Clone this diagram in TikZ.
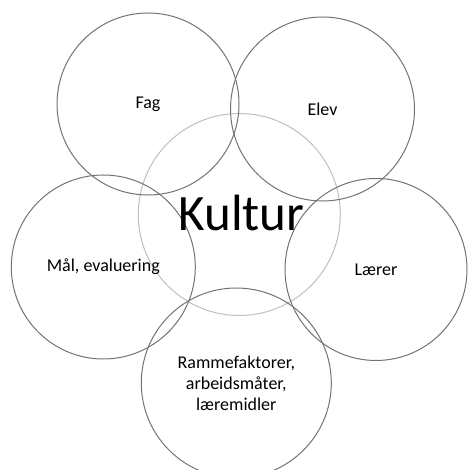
\documentclass[tikz,border=0pt]{standalone}
\usepackage{fontspec}
\setmainfont{Carlito}
\begin{document}
\begin{tikzpicture}[x=1pt,y=1pt,
  outer/.style={circle,draw=black!55,line width=1pt,minimum size=#1,inner sep=0pt,align=center,font=\fontsize{18}{21}\selectfont},
  inner/.style={circle,draw=black!25,line width=1pt,minimum size=#1,inner sep=0pt}]
\useasboundingbox (0,0) rectangle (467,470);
\node[inner=202pt] (kulturc) at (239.3,255.5) {};
\node[outer=182pt] (fag) at (148,366) {Fag};
\node[outer=184pt] (elev) at (322.5,361) {Elev};
\node[outer=184pt] (maal) at (103.3,203) {Mål, evaluering};
\node[outer=182pt] (laerer) at (376,200.5) {Lærer};
\node[outer=190pt] (ramme) at (236.3,87) {Rammefaktorer,\\arbeidsmåter,\\læremidler};
\node[font=\fontsize{51}{60}\selectfont,inner sep=0pt] (kultur) at (241.5,257) {Kultur};
\end{tikzpicture}
\end{document}
